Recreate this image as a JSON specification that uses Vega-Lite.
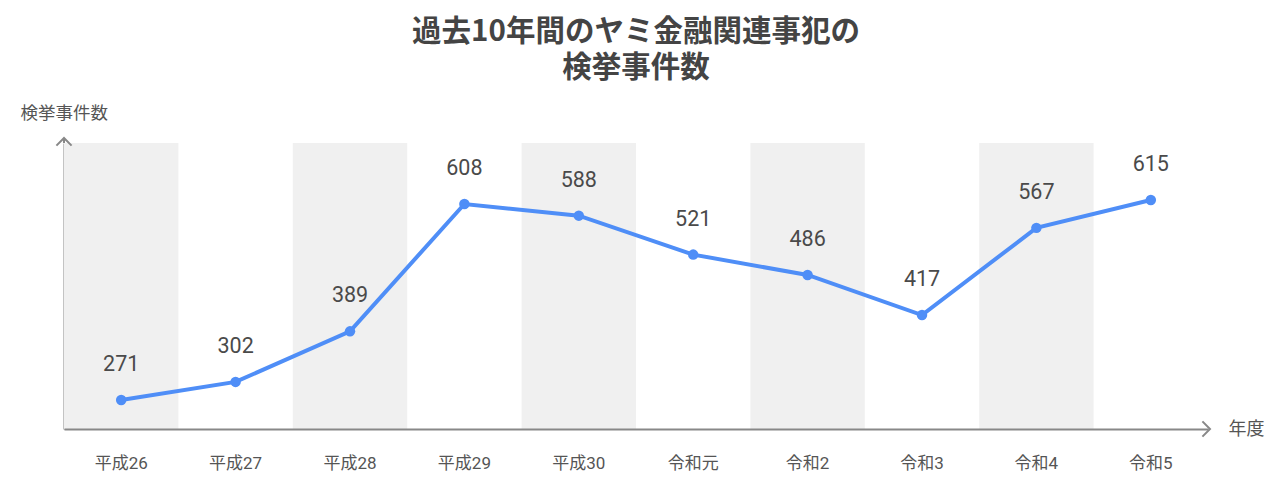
{
  "$schema": "https://vega.github.io/schema/vega-lite/v6.json",
  "width": 1144,
  "height": 286,
  "autosize": "none",
  "padding": {"left": 64, "top": 143, "right": 72, "bottom": 62},
  "background": "white",
  "config": {
    "font": "Roboto, 'Noto Sans CJK JP'",
    "view": {"stroke": null}
  },
  "title": {
    "text": ["過去10年間のヤミ金融関連事犯の", "検挙事件数"],
    "anchor": "middle",
    "font": "'Noto Sans CJK JP'",
    "fontSize": 29.5,
    "fontWeight": "bold",
    "color": "#444444",
    "lineHeight": 36,
    "offset": 21
  },
  "datasets": {
    "counts": [
      {"year": "平成26", "count": 271},
      {"year": "平成27", "count": 302},
      {"year": "平成28", "count": 389},
      {"year": "平成29", "count": 608},
      {"year": "平成30", "count": 588},
      {"year": "令和元", "count": 521},
      {"year": "令和2", "count": 486},
      {"year": "令和3", "count": 417},
      {"year": "令和4", "count": 567},
      {"year": "令和5", "count": 615}
    ],
    "shaded": [
      {"year": "平成26"},
      {"year": "平成28"},
      {"year": "平成30"},
      {"year": "令和2"},
      {"year": "令和4"}
    ],
    "arrows": [{"axis": "y"}]
  },
  "layer": [
    {
      "data": {"name": "shaded"},
      "mark": {"type": "rect", "color": "#f0f0f0"},
      "encoding": {
        "x": {
          "field": "year",
          "type": "nominal",
          "sort": ["平成26","平成27","平成28","平成29","平成30","令和元","令和2","令和3","令和4","令和5"],
          "scale": {"domain": ["平成26","平成27","平成28","平成29","平成30","令和元","令和2","令和3","令和4","令和5"], "paddingInner": 0, "paddingOuter": 0}
        }
      }
    },
    {
      "data": {"name": "counts"},
      "encoding": {
        "x": {
          "field": "year",
          "type": "nominal",
          "sort": ["平成26","平成27","平成28","平成29","平成30","令和元","令和2","令和3","令和4","令和5"],
          "axis": {
            "title": "年度",
            "titleFont": "Roboto, 'Noto Sans CJK JP'",
            "titleFontSize": 18,
            "titleFontWeight": "normal",
            "titleColor": "#555555",
            "titleX": 1164,
            "titleY": 0,
            "titleAlign": "left",
            "titleBaseline": "middle",
            "labelAngle": 0,
            "labelAlign": "center",
            "labelBaseline": "middle",
            "labelFontSize": 17,
            "labelColor": "#555555",
            "labelPadding": 34,
            "ticks": false,
            "domainColor": "#888888",
            "domainWidth": 2
          }
        },
        "y": {
          "field": "count",
          "type": "quantitative",
          "scale": {"domain": [221, 713], "nice": false, "zero": false},
          "axis": {
            "title": "検挙事件数",
            "titleFont": "Roboto, 'Noto Sans CJK JP'",
            "titleFontSize": 17.5,
            "titleFontWeight": "normal",
            "titleColor": "#555555",
            "titleAngle": 0,
            "titleX": -44,
            "titleY": -30,
            "titleAlign": "left",
            "titleBaseline": "middle",
            "labels": false,
            "ticks": false,
            "grid": false,
            "domainColor": "#888888",
            "domainWidth": 2
          }
        }
      },
      "layer": [
        {"mark": {"type": "line", "color": "#4f8ef7", "strokeWidth": 4}},
        {"mark": {"type": "point", "filled": true, "opacity": 1, "color": "#4f8ef7", "size": 110}},
        {"mark": {"type": "text", "dy": -35, "fontSize": 21.5, "color": "#4a4a4a"}, "encoding": {"text": {"field": "count", "type": "quantitative"}}}
      ]
    },
    {
      "data": {"name": "arrows"},
      "mark": {"type": "rule", "stroke": "#888888", "strokeWidth": 2},
      "encoding": {"x": {"value": 0}, "y": {"value": -5}, "y2": {"value": 0}}
    },
    {
      "data": {"name": "arrows"},
      "mark": {"type": "point", "shape": "M -1 1 L 0 0 L 1 1", "filled": false, "stroke": "#888888", "strokeWidth": 2, "size": 230, "opacity": 1},
      "encoding": {"x": {"value": 0}, "y": {"value": -5}}
    },
    {
      "data": {"name": "arrows"},
      "mark": {"type": "point", "shape": "M -1 -1 L 0 0 L -1 1", "filled": false, "stroke": "#888888", "strokeWidth": 2, "size": 230, "opacity": 1},
      "encoding": {"x": {"value": 1146}, "y": {"value": 286}}
    }
  ]
}
